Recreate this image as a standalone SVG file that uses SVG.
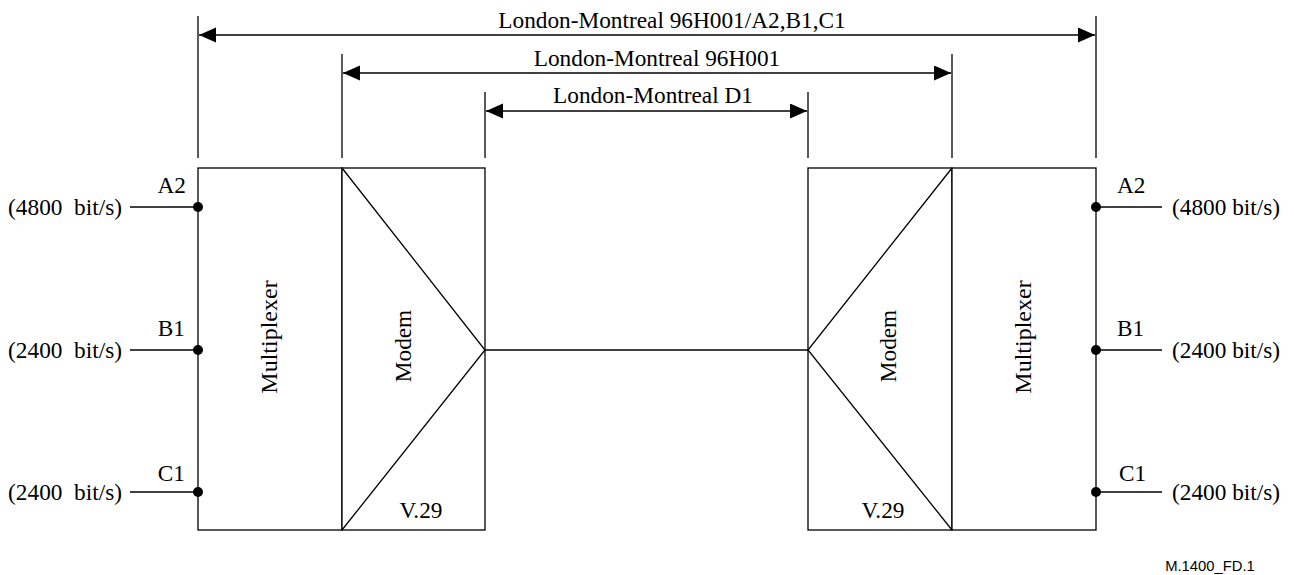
<svg xmlns="http://www.w3.org/2000/svg" width="1294" height="575" viewBox="0 0 1294 575">
<defs>
<marker id="ah" markerUnits="userSpaceOnUse" markerWidth="18" markerHeight="16" refX="17" refY="7.5" orient="auto-start-reverse">
<path d="M0,0 L17,7.5 L0,15 Z" fill="#000"/>
</marker>
<style>
.ln{stroke:#000;stroke-width:1.3;fill:none}
.bx{stroke:#000;stroke-width:1.3;fill:#fff}
.t{font-family:"Liberation Serif","Times New Roman",serif;font-size:23.3px;fill:#000}
.big{font-size:24px}
.dot{fill:#000}
.ref{font-family:"Liberation Sans",Arial,sans-serif;font-size:14.8px;fill:#000}
</style>
</defs>
<rect width="1294" height="575" fill="#fff"/>

<g id="dimensions">
<line class="ln" x1="198" y1="16" x2="198" y2="158"/>
<line class="ln" x1="1096" y1="16" x2="1096" y2="158"/>
<line class="ln" x1="342" y1="54" x2="342" y2="158"/>
<line class="ln" x1="952" y1="54" x2="952" y2="158"/>
<line class="ln" x1="485" y1="92" x2="485" y2="158"/>
<line class="ln" x1="808" y1="92" x2="808" y2="158"/>
<line class="ln" x1="199" y1="35" x2="1095" y2="35" marker-start="url(#ah)" marker-end="url(#ah)"/>
<line class="ln" x1="343" y1="73" x2="951" y2="73" marker-start="url(#ah)" marker-end="url(#ah)"/>
<line class="ln" x1="486" y1="111" x2="807" y2="111" marker-start="url(#ah)" marker-end="url(#ah)"/>
<text class="t" x="672" y="28" text-anchor="middle">London-Montreal 96H001/A2,B1,C1</text>
<text class="t" x="657" y="66" text-anchor="middle">London-Montreal 96H001</text>
<text class="t" x="653" y="103" text-anchor="middle">London-Montreal D1</text>
</g>

<g id="mux-left">
<rect class="bx" x="198" y="168" width="144" height="362"/>
<text class="t big" transform="translate(277,337) rotate(-90)" text-anchor="middle">Multiplexer</text>
</g>
<g id="modem-left">
<rect class="bx" x="342" y="168" width="143" height="362"/>
<polyline class="ln" points="342,168 485,350 342,530"/>
<text class="t" transform="translate(411,346) rotate(-90)" text-anchor="middle">Modem</text>
<text class="t" x="421" y="518" text-anchor="middle">V.29</text>
</g>
<g id="modem-right">
<rect class="bx" x="808" y="168" width="144" height="362"/>
<polyline class="ln" points="952,168 808,350 952,530"/>
<text class="t" transform="translate(896,346) rotate(-90)" text-anchor="middle">Modem</text>
<text class="t" x="883" y="518" text-anchor="middle">V.29</text>
</g>
<g id="mux-right">
<rect class="bx" x="952" y="168" width="144" height="362"/>
<text class="t big" transform="translate(1031,337) rotate(-90)" text-anchor="middle">Multiplexer</text>
</g>

<g id="connectors">
<line class="ln" x1="130" y1="207" x2="198" y2="207"/>
<line class="ln" x1="130" y1="350" x2="198" y2="350"/>
<line class="ln" x1="130" y1="492" x2="198" y2="492"/>
<line class="ln" x1="485" y1="350" x2="808" y2="350"/>
<line class="ln" x1="1096" y1="207" x2="1162" y2="207"/>
<line class="ln" x1="1096" y1="350" x2="1162" y2="350"/>
<line class="ln" x1="1096" y1="492" x2="1162" y2="492"/>
<circle class="dot" cx="198" cy="207" r="5"/>
<circle class="dot" cx="198" cy="350" r="5"/>
<circle class="dot" cx="198" cy="492" r="5"/>
<circle class="dot" cx="1096" cy="207" r="5"/>
<circle class="dot" cx="1096" cy="350" r="5"/>
<circle class="dot" cx="1096" cy="492" r="5"/>
</g>

<g id="labels-left">
<text class="t" x="186" y="193" text-anchor="end">A2</text>
<text class="t" x="185" y="336" text-anchor="end">B1</text>
<text class="t" x="185" y="481" text-anchor="end">C1</text>
<text class="t" x="122" y="215" text-anchor="end" xml:space="preserve">(4800  bit/s)</text>
<text class="t" x="122" y="358" text-anchor="end" xml:space="preserve">(2400  bit/s)</text>
<text class="t" x="122" y="500" text-anchor="end" xml:space="preserve">(2400  bit/s)</text>
</g>
<g id="labels-right">
<text class="t" x="1117" y="193">A2</text>
<text class="t" x="1117" y="336">B1</text>
<text class="t" x="1119" y="481">C1</text>
<text class="t" x="1172" y="215">(4800 bit/s)</text>
<text class="t" x="1172" y="358">(2400 bit/s)</text>
<text class="t" x="1172" y="500">(2400 bit/s)</text>
</g>

<text class="ref" x="1210" y="571" text-anchor="middle">M.1400_FD.1</text>
</svg>
